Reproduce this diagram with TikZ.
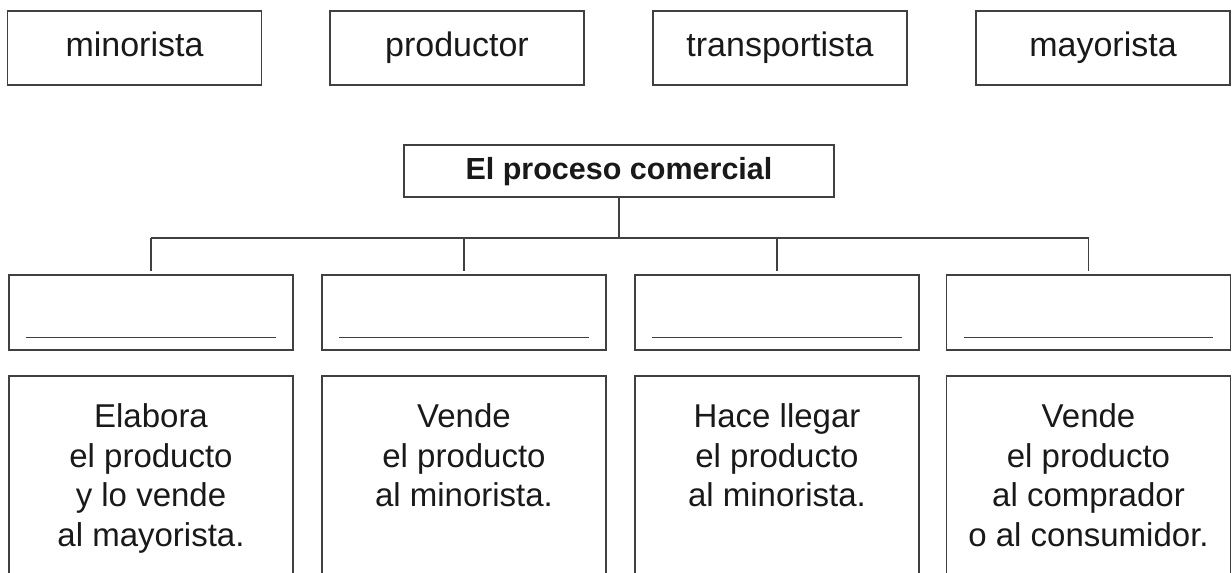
\documentclass[tikz,border=0pt]{standalone}
\usepackage{fontspec}
\setmainfont{Liberation Sans}
\usetikzlibrary{positioning}
\newcommand{\etiquetafont}{\fontsize{34}{40}\selectfont}
\newcommand{\titulofont}{\fontsize{30.5}{36}\selectfont\bfseries}
\newcommand{\tareafont}{\fontsize{33}{39.7}\selectfont}
\tikzset{
  linea/.style={draw=black!75, line width=1.3pt},
  caja/.style={linea, rectangle, inner sep=0pt, text=black!90},
  etiqueta/.style={caja, minimum width=254pt, minimum height=74pt,
    font=\etiquetafont, text height=24.5pt, text depth=6.8pt},
  titulo/.style={caja, minimum width=430pt, minimum height=52pt,
    font=\titulofont, text height=22pt, text depth=6pt},
  respuesta/.style={caja, minimum width=284pt, minimum height=75pt},
  marco/.style={caja, minimum width=284pt, minimum height=240pt},
  tarea/.style={inner sep=0pt, align=center, font=\tareafont, text=black!90}
}
\begin{document}
\begin{tikzpicture}[x=1pt,y=-1pt]
  \useasboundingbox (0,0) rectangle (1232,573);
  \clip (0,0) rectangle (1232,573);
  % words to place
  \node[etiqueta] (minorista) at (134.5,48) {minorista};
  \node[etiqueta] (productor) at (457,48) {productor};
  \node[etiqueta] (transportista) at (780,48) {transportista};
  \node[etiqueta] (mayorista) at (1103,48) {mayorista};
  % title and tree
  \node[titulo] (titulo) at (619,171) {El proceso comercial};
  \node[respuesta] (resp1) at (151,312.5) {};
  \node[respuesta] (resp2) at (464,312.5) {};
  \node[respuesta] (resp3) at (777,312.5) {};
  \node[respuesta] (resp4) at (1088.5,312.5) {};
  \coordinate (rama) at (619,238);
  \draw[linea] (titulo) -- (rama);
  \draw[linea] (rama -| resp1) -- (rama -| resp4); % branch
  \foreach \i in {1,...,4}{
    \draw[linea, shorten >=3pt] (rama -| resp\i) -- (resp\i);
    \draw[linea] ([shift={(18pt,13pt)}]resp\i.south west) --
      ([shift={(-18pt,13pt)}]resp\i.south east); % blank line
  }
  % descriptions
  \node[marco] (tarea1) at (151,496) {};
  \node[marco] (tarea2) at (464,496) {};
  \node[marco] (tarea3) at (777,496) {};
  \node[marco] (tarea4) at (1088.5,496) {};
  \node[tarea, below=28pt of tarea1.north] (texto1)
    {Elabora\\el producto\\y lo vende\\al mayorista.};
  \node[tarea, below=28pt of tarea2.north] (texto2)
    {Vende\\el producto\\al minorista.};
  \node[tarea, below=28pt of tarea3.north] (texto3)
    {Hace llegar\\el producto\\al minorista.};
  \node[tarea, below=28pt of tarea4.north] (texto4)
    {Vende\\el producto\\al comprador\\o al consumidor.};
\end{tikzpicture}
\end{document}
